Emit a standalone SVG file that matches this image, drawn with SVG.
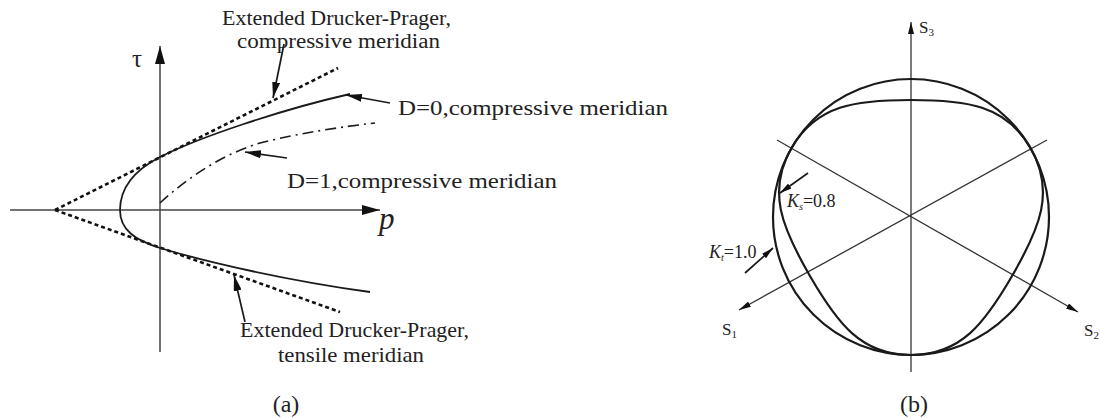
<svg xmlns="http://www.w3.org/2000/svg" width="1100" height="418" viewBox="0 0 1100 418">
<defs>
<style>
.t{font-family:"Liberation Serif","Times New Roman",serif;fill:#222;}
.ax{stroke:#444;stroke-width:1.5;fill:none;}
.cv{stroke:#1a1a1a;stroke-width:1.8;fill:none;}
.dsh{stroke:#111;stroke-width:2.6;fill:none;stroke-dasharray:4 3;}
.dd{stroke:#1a1a1a;stroke-width:1.6;fill:none;stroke-dasharray:11 5 2 5;}
.ld{stroke:#1a1a1a;stroke-width:1.7;fill:none;}
.bc{stroke:#1a1a1a;stroke-width:2.2;fill:none;}
.bx{stroke:#333;stroke-width:1.3;fill:none;}
</style>
<marker id="ah" viewBox="0 0 16 8" refX="16" refY="4" markerWidth="16" markerHeight="8" markerUnits="userSpaceOnUse" orient="auto"><path d="M0,0 L16,4 L0,8 z" fill="#111"/></marker>
<marker id="ahs" viewBox="0 0 12 6" refX="12" refY="3" markerWidth="12" markerHeight="6" markerUnits="userSpaceOnUse" orient="auto"><path d="M0,0 L12,3 L0,6 z" fill="#111"/></marker>
<marker id="ahx" viewBox="0 0 18 10" refX="18" refY="5" markerWidth="18" markerHeight="10" markerUnits="userSpaceOnUse" orient="auto"><path d="M0,0 L18,5 L0,10 z" fill="#111"/></marker>
</defs>
<rect width="1100" height="418" fill="#fff"/>

<g id="panel-a">
<g id="axes-a">
<line class="ax" x1="160" y1="352" x2="160" y2="46" marker-end="url(#ahx)"/>
<line class="ax" x1="10" y1="210" x2="380" y2="210" marker-end="url(#ahx)"/>
<text class="t" x="132" y="67" font-size="25">τ</text>
<text class="t" x="379" y="229" font-size="31" font-style="italic">p</text>
</g>
<g id="curves-a">
<path class="dsh" d="M55,210 L338,68"/>
<path class="dsh" d="M55,210 L340,312"/>
<path class="cv" d="M120,210 C120,188 135,170 160,157 C200,137 280,110 350,94"/>
<path class="cv" d="M120,210 C120,230 135,240 160,248 C210,263 290,281 370,292"/>
<path class="dd" d="M160,203 C185,180 220,155 260,143 C300,133 340,127 375,123"/>
</g>
<g id="connectors-a">
<line class="ld" x1="284" y1="44" x2="273" y2="98" marker-end="url(#ah)"/>
<line class="ld" x1="390" y1="103" x2="346" y2="95" marker-end="url(#ah)"/>
<line class="ld" x1="287" y1="158" x2="245" y2="152" marker-end="url(#ah)"/>
<line class="ld" x1="245" y1="322" x2="234" y2="275" marker-end="url(#ah)"/>
</g>
<g id="label-edp-comp">
<text class="t" x="222" y="25" font-size="20" textLength="229" lengthAdjust="spacingAndGlyphs">Extended Drucker-Prager,</text>
<text class="t" x="237" y="48" font-size="20" textLength="203" lengthAdjust="spacingAndGlyphs">compressive meridian</text>
</g>
<g id="label-d0">
<text class="t" x="398" y="115" font-size="21" textLength="270" lengthAdjust="spacingAndGlyphs">D=0,compressive meridian</text>
</g>
<g id="label-d1">
<text class="t" x="287" y="188" font-size="21" textLength="270" lengthAdjust="spacingAndGlyphs">D=1,compressive meridian</text>
</g>
<g id="label-edp-tens">
<text class="t" x="240" y="337" font-size="21" textLength="229" lengthAdjust="spacingAndGlyphs">Extended Drucker-Prager,</text>
<text class="t" x="278" y="362" font-size="21" textLength="146" lengthAdjust="spacingAndGlyphs">tensile meridian</text>
</g>
<text class="t" x="286" y="412" font-size="24" text-anchor="middle">(a)</text>
</g>

<g id="panel-b">
<g id="axes-b">
<line class="bx" x1="911" y1="372" x2="911" y2="22" marker-end="url(#ahs)"/>
<line class="bx" x1="1047" y1="140" x2="739" y2="310" marker-end="url(#ahs)"/>
<line class="bx" x1="777" y1="140" x2="1078" y2="312" marker-end="url(#ahs)"/>
<text class="t" x="919" y="33" font-size="17">S<tspan font-size="11" dy="3">3</tspan></text>
<text class="t" x="722" y="335" font-size="17">S<tspan font-size="11" dy="3">1</tspan></text>
<text class="t" x="1084" y="336" font-size="17">S<tspan font-size="11" dy="3">2</tspan></text>
</g>
<g id="circle-kt">
<circle class="bc" cx="911" cy="217" r="138"/>
</g>
<g id="curve-ks">
<path id="side" class="bc" d="M791.5,148 C816.5,104.7 856,100 911,100 C966,100 1005.5,104.7 1030.5,148"/>
<use href="#side" transform="rotate(120 911 217)"/>
<use href="#side" transform="rotate(240 911 217)"/>
</g>
<g id="connectors-b">
<line class="ld" x1="808" y1="173" x2="780" y2="193" stroke-width="1.3" marker-end="url(#ahs)"/>
<line class="ld" x1="745" y1="273" x2="773" y2="248" stroke-width="1.3" marker-end="url(#ahs)"/>
</g>
<g id="label-ks">
<text class="t" x="787" y="207" font-size="18"><tspan font-style="italic">K</tspan><tspan font-size="10" font-style="italic" dy="3">s</tspan><tspan dy="-3">=0.8</tspan></text>
</g>
<g id="label-kt">
<text class="t" x="709" y="258" font-size="18"><tspan font-style="italic">K</tspan><tspan font-size="10" font-style="italic" dy="3">t</tspan><tspan dy="-3">=1.0</tspan></text>
</g>
<text class="t" x="914" y="412" font-size="24" text-anchor="middle">(b)</text>
</g>
</svg>
